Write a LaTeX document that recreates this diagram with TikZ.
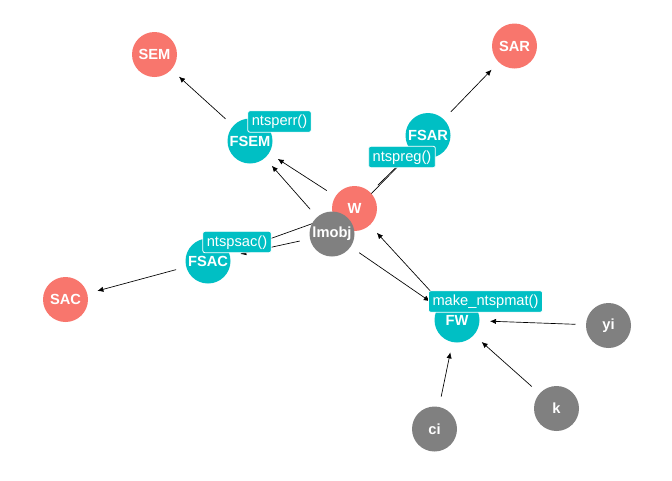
\documentclass[tikz,border=0pt]{standalone}
\usepackage{fontspec}
\setmainfont{Liberation Sans}
\usetikzlibrary{arrows.meta}
\definecolor{nred}{HTML}{F8766D}
\definecolor{nteal}{HTML}{00BFC4}
\definecolor{ngrey}{HTML}{808080}
\pgfdeclarelayer{bg}
\pgfsetlayers{bg,main}
\begin{document}
\begin{tikzpicture}[x=0.75pt,y=-0.75pt,
  nd/.style={circle,minimum size=33.75pt,inner sep=0pt,outer sep=0pt,text=white,font=\bfseries\fontsize{11}{13}\selectfont},
  outnode/.style={nd,fill=nred},
  fnnode/.style={nd,fill=nteal},
  innode/.style={nd,fill=ngrey},
  lbl/.style={fill=nteal,draw=white,line width=0.6pt,rounded corners=1.5pt,text=white,font=\fontsize{11}{13}\selectfont,inner xsep=3pt,inner ysep=2.5pt,text height=8.5pt,text depth=2.5pt},
  edge/.style={-{Latex[length=4.5pt,width=4pt]},line width=0.5pt,shorten >=7.9pt,shorten <=7.9pt}]
\useasboundingbox (0,0) rectangle (672,480);
\node[outnode] (SEM) at (154.5,54.5) {SEM};
\node[outnode] (SAR) at (514.5,46) {SAR};
\node[fnnode] (FSEM) at (250,141) {FSEM};
\node[fnnode] (FSAR) at (428,135.5) {FSAR};
\node[outnode] (W) at (354.5,208.5) {W};
\node[innode] (lmobj) at (332,234) {lmobj};
\node[fnnode] (FSAC) at (208,261) {FSAC};
\node[outnode] (SAC) at (65.5,299.5) {SAC};
\node[fnnode] (FW) at (457,320) {FW};
\node[innode] (yi) at (608.5,325.5) {yi};
\node[innode] (k) at (556.5,408.5) {k};
\node[innode] (ci) at (434.5,429) {ci};
\begin{pgfonlayer}{bg}
\draw[edge] (FSEM) -- (SEM);
\draw[edge] (FSAR) -- (SAR);
\draw[edge] (W) -- (FSEM);
\draw[edge] (lmobj) -- (FSEM);
\draw[edge] (W) -- (FSAC);
\draw[edge] (lmobj) -- (FSAC);
\draw[edge] (FSAC) -- (SAC);
\draw[edge] (W) -- (FSAR);
\draw[edge] (lmobj) -- (FSAR);
\draw[edge] (FW) -- (W);
\draw[edge] (lmobj) -- (FW);
\draw[edge] (yi) -- (FW);
\draw[edge] (k) -- (FW);
\draw[edge] (ci) -- (FW);
\end{pgfonlayer}
\node[lbl] (l1) at (279.5,121.5) {ntsperr()};
\node[lbl] (l2) at (402,157) {ntspreg()};
\node[lbl] (l3) at (237,242) {ntspsac()};
\node[lbl] (l4) at (485.5,301.5) {make\_ntspmat()};
\end{tikzpicture}
\end{document}
